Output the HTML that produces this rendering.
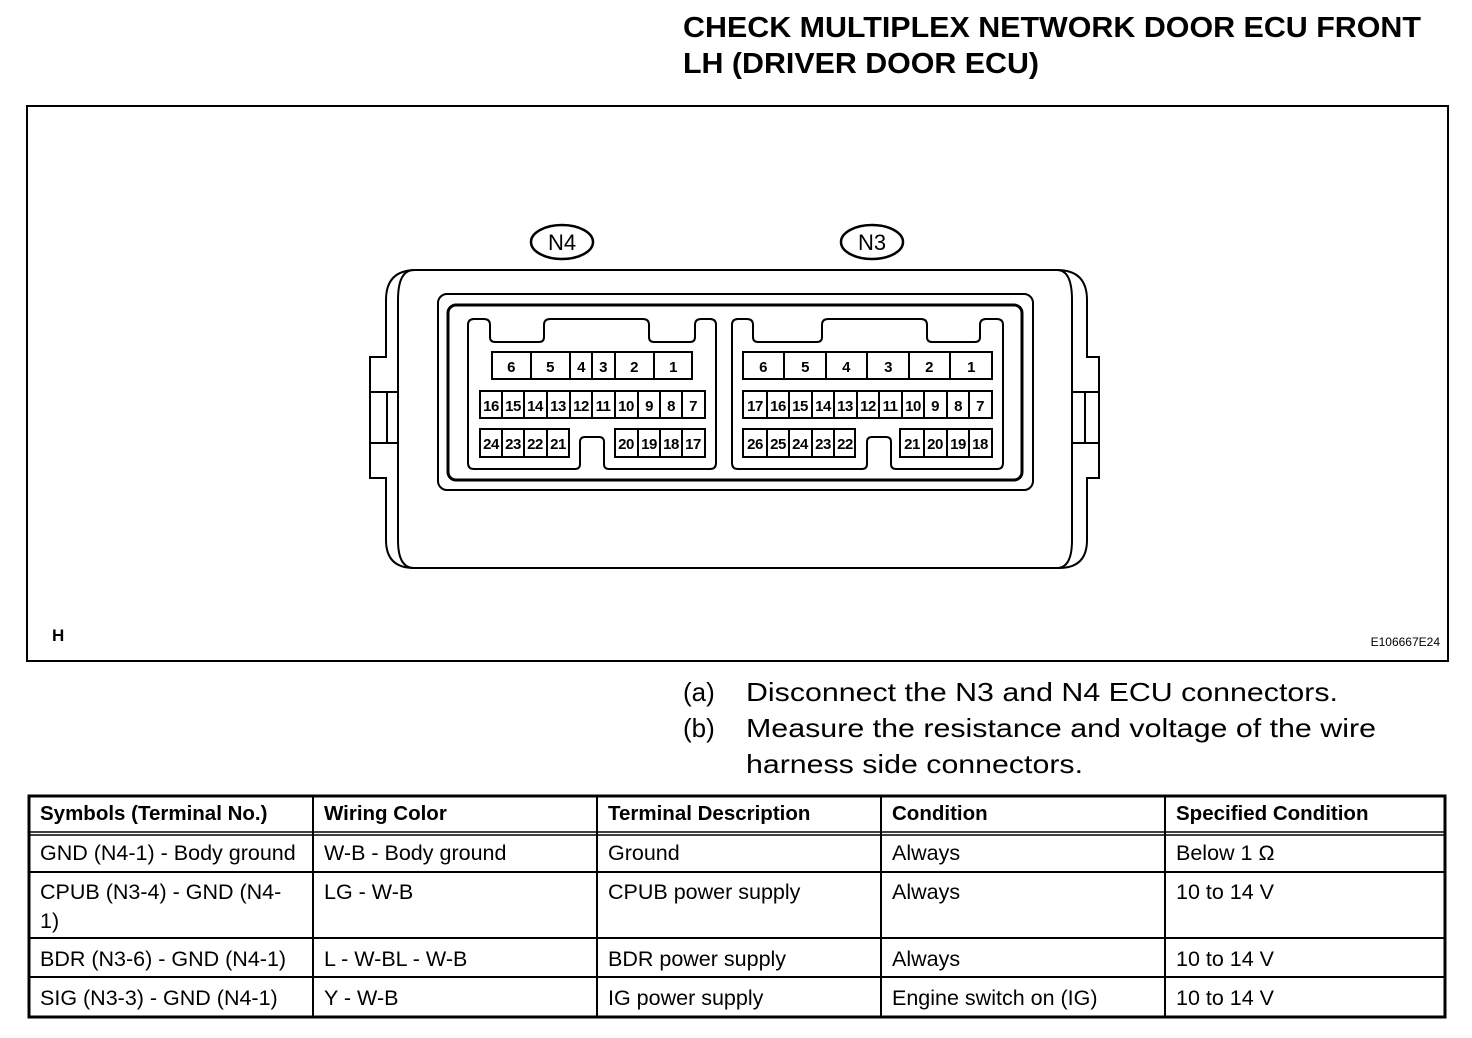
<!DOCTYPE html>
<html><head><meta charset="utf-8"><style>
html,body{margin:0;padding:0;background:#fff;}
svg{display:block;font-family:"Liberation Sans",Arial,sans-serif;}
</style></head><body>
<svg width="1472" height="1038" viewBox="0 0 1472 1038" xmlns="http://www.w3.org/2000/svg">
<g font-weight="bold" font-size="29" fill="#000">
<text x="683" y="37" textLength="738" lengthAdjust="spacingAndGlyphs">CHECK MULTIPLEX NETWORK DOOR ECU FRONT</text>
<text x="683" y="73" textLength="356" lengthAdjust="spacingAndGlyphs">LH (DRIVER DOOR ECU)</text>
</g>
<rect x="27" y="106" width="1421" height="555" fill="none" stroke="#000" stroke-width="2"/>
<ellipse cx="562" cy="242" rx="31" ry="17" fill="none" stroke="#000" stroke-width="2.5"/>
<text x="562" y="250" font-size="22" text-anchor="middle">N4</text>
<ellipse cx="872" cy="242" rx="31" ry="17" fill="none" stroke="#000" stroke-width="2.5"/>
<text x="872" y="250" font-size="22" text-anchor="middle">N3</text>
<g fill="none" stroke="#000" stroke-width="2">
<path d="M386,357 V300 q0,-30 30,-30 H1057 q30,0 30,30 V357 H1099 V478 H1087 V540 q0,28 -28,28 H414 q-28,0 -28,-28 V478 H370 V357 Z"/>
<path d="M414,270 q-16,0 -16,30 V540 q0,28 16,28"/>
<path d="M1057,270 q15,0 15,30 V540 q0,28 -15,28"/>
<path d="M370,392 H398 M370,443 H398 M387,392 V443"/>
<path d="M1072,392 H1099 M1072,443 H1099 M1085,392 V443"/>
<rect x="438" y="294" width="595" height="196" rx="9"/>
<rect x="448" y="305" width="574" height="175" rx="8" stroke-width="3"/>
<path d="M468,325 q0,-6 6,-6 h10 q6,0 6,6 v12 q0,5 5,5 h44 q5,0 5,-5 v-12 q0,-6 6,-6 h93 q6,0 6,6 v12 q0,5 5,5 h36 q5,0 5,-5 v-12 q0,-6 6,-6 h9 q6,0 6,6 v138 q0,6 -6,6 h-101 q-5,0 -5,-5 v-22 q0,-5 -5,-5 h-14 q-5,0 -5,5 v22 q0,5 -5,5 h-101 q-6,0 -6,-6 z"/>
<path d="M732,325 q0,-6 6,-6 h9 q6,0 6,6 v12 q0,5 5,5 h59 q5,0 5,-5 v-12 q0,-6 6,-6 h93 q6,0 6,6 v12 q0,5 5,5 h43 q5,0 5,-5 v-12 q0,-6 6,-6 h11 q6,0 6,6 v138 q0,6 -6,6 h-101 q-5,0 -5,-5 v-22 q0,-5 -5,-5 h-14 q-5,0 -5,5 v22 q0,5 -5,5 h-124 q-6,0 -6,-6 z"/>
</g>
<g fill="none" stroke="#000" stroke-width="2">
<rect x="492" y="352" width="200" height="27"/><path d="M531,352V379M570,352V379M592,352V379M615,352V379M654,352V379"/>
<rect x="480" y="391" width="225" height="27"/><path d="M502,391V418M524,391V418M547,391V418M570,391V418M592,391V418M615,391V418M638,391V418M660,391V418M682,391V418"/>
<rect x="480" y="429" width="89" height="28"/><path d="M502,429V457M524,429V457M547,429V457"/>
<rect x="615" y="429" width="90" height="28"/><path d="M638,429V457M660,429V457M682,429V457"/>
<rect x="743" y="352" width="249" height="27"/><path d="M784,352V379M826,352V379M867,352V379M909,352V379M950,352V379"/>
<rect x="743" y="391" width="249" height="27"/><path d="M767,391V418M789,391V418M812,391V418M834,391V418M857,391V418M879,391V418M902,391V418M924,391V418M947,391V418M969,391V418"/>
<rect x="743" y="429" width="112" height="28"/><path d="M767,429V457M789,429V457M812,429V457M834,429V457"/>
<rect x="900" y="429" width="92" height="28"/><path d="M924,429V457M947,429V457M969,429V457"/>
</g>
<g font-size="15" font-weight="bold" text-anchor="middle" letter-spacing="-0.5">
<text x="511" y="372">6</text><text x="550" y="372">5</text><text x="581" y="372">4</text><text x="603" y="372">3</text><text x="634" y="372">2</text><text x="673" y="372">1</text>
<text x="491" y="411">16</text><text x="513" y="411">15</text><text x="535" y="411">14</text><text x="558" y="411">13</text><text x="581" y="411">12</text><text x="603" y="411">11</text><text x="626" y="411">10</text><text x="649" y="411">9</text><text x="671" y="411">8</text><text x="693" y="411">7</text>
<text x="491" y="449">24</text><text x="513" y="449">23</text><text x="535" y="449">22</text><text x="558" y="449">21</text>
<text x="626" y="449">20</text><text x="649" y="449">19</text><text x="671" y="449">18</text><text x="693" y="449">17</text>
<text x="763" y="372">6</text><text x="805" y="372">5</text><text x="846" y="372">4</text><text x="888" y="372">3</text><text x="929" y="372">2</text><text x="971" y="372">1</text>
<text x="755" y="411">17</text><text x="778" y="411">16</text><text x="800" y="411">15</text><text x="823" y="411">14</text><text x="845" y="411">13</text><text x="868" y="411">12</text><text x="890" y="411">11</text><text x="913" y="411">10</text><text x="935" y="411">9</text><text x="958" y="411">8</text><text x="980" y="411">7</text>
<text x="755" y="449">26</text><text x="778" y="449">25</text><text x="800" y="449">24</text><text x="823" y="449">23</text><text x="845" y="449">22</text>
<text x="912" y="449">21</text><text x="935" y="449">20</text><text x="958" y="449">19</text><text x="980" y="449">18</text>
</g>
<text x="52" y="641" font-size="17" font-weight="bold">H</text>
<text x="1440" y="646" font-size="12" text-anchor="end">E106667E24</text>
<g font-size="26">
<text x="683" y="701">(a)</text><text x="746" y="701" textLength="592" lengthAdjust="spacingAndGlyphs">Disconnect the N3 and N4 ECU connectors.</text>
<text x="683" y="737">(b)</text><text x="746" y="737" textLength="630" lengthAdjust="spacingAndGlyphs">Measure the resistance and voltage of the wire</text>
<text x="746" y="773" textLength="337" lengthAdjust="spacingAndGlyphs">harness side connectors.</text>
</g>
<g fill="none" stroke="#000">
<rect x="29" y="796" width="1416" height="221" stroke-width="3"/>
<path d="M29,832H1445M29,835H1445" stroke-width="1.5"/>
<path d="M29,872H1445M29,938H1445M29,977H1445" stroke-width="2"/>
<path d="M313,796V1017M597,796V1017M881,796V1017M1165,796V1017" stroke-width="2"/>
</g>
<g font-size="21.5">
<g font-weight="bold" font-size="20.5">
<text x="40" y="820">Symbols (Terminal No.)</text><text x="324" y="820">Wiring Color</text><text x="608" y="820">Terminal Description</text><text x="892" y="820">Condition</text><text x="1176" y="820">Specified Condition</text>
</g>
<text x="40" y="860">GND (N4-1) - Body ground</text><text x="324" y="860">W-B - Body ground</text><text x="608" y="860">Ground</text><text x="892" y="860">Always</text><text x="1176" y="860">Below 1 Ω</text>
<text x="40" y="899">CPUB (N3-4) - GND (N4-</text><text x="40" y="928">1)</text><text x="324" y="899">LG - W-B</text><text x="608" y="899">CPUB power supply</text><text x="892" y="899">Always</text><text x="1176" y="899">10 to 14 V</text>
<text x="40" y="966">BDR (N3-6) - GND (N4-1)</text><text x="324" y="966">L - W-BL - W-B</text><text x="608" y="966">BDR power supply</text><text x="892" y="966">Always</text><text x="1176" y="966">10 to 14 V</text>
<text x="40" y="1005">SIG (N3-3) - GND (N4-1)</text><text x="324" y="1005">Y - W-B</text><text x="608" y="1005">IG power supply</text><text x="892" y="1005">Engine switch on (IG)</text><text x="1176" y="1005">10 to 14 V</text>
</g>
</svg>
</body></html>
